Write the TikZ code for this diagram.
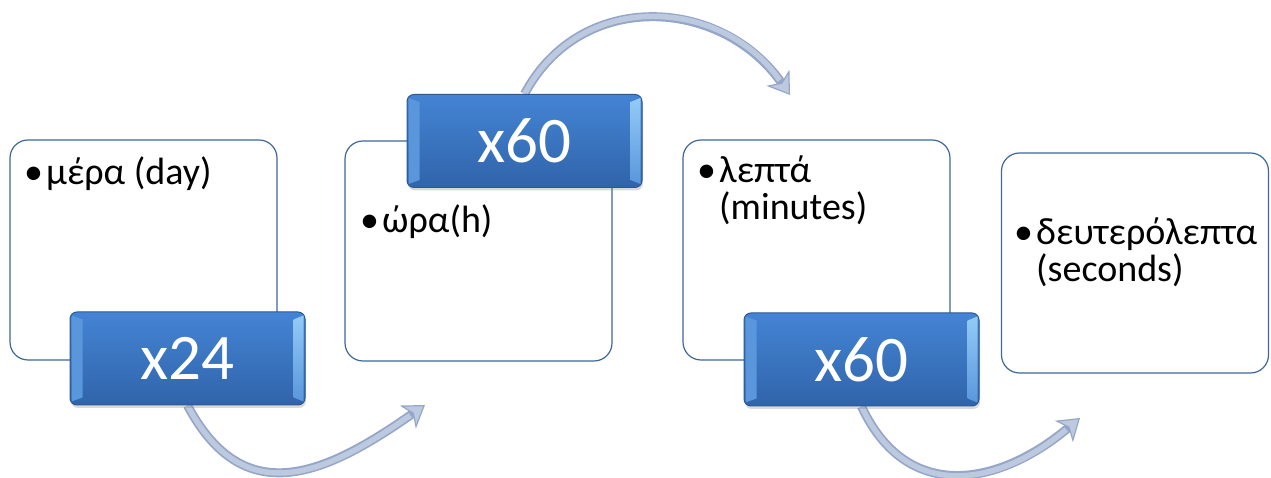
\documentclass[tikz,border=0pt]{standalone}
\usepackage{fontspec}
\setmainfont{Carlito}
\usetikzlibrary{arrows.meta,backgrounds,calc,positioning,shadows}
\definecolor{boxedge}{HTML}{3D6898}
\definecolor{steptop}{HTML}{4484D4}
\definecolor{stepbottom}{HTML}{3064AA}
\definecolor{stepedge}{HTML}{2C5890}
\definecolor{steplight}{HTML}{93CBF6}
\definecolor{stepside}{HTML}{5A96DC}
\definecolor{arrowfill}{HTML}{BCC9DF}
\definecolor{arrowedge}{HTML}{94A7C8}
\newcommand{\bul}{\makebox[22pt][l]{\textbullet}}

\tikzset{
  unitbox/.style={draw=boxedge, line width=1.2pt, fill=white, rounded corners=18pt,
    minimum width=267pt, minimum height=220pt},
  unittext/.style={anchor=base west, inner sep=0pt, align=left,
    font=\fontsize{38}{37}\selectfont},
  factorbox/.style={draw=stepedge, line width=1pt, rounded corners=7pt,
    top color=steptop, bottom color=stepbottom, text=white,
    minimum width=235pt, minimum height=93pt, font=\fontsize{65}{65}\selectfont,
    drop shadow={shadow xshift=1pt, shadow yshift=-3pt, opacity=0.3}},
  turnarrow/.style={draw=arrowedge, line width=9pt,
    -{Stealth[length=21pt, width=28pt, inset=6pt, fill=arrowfill, line width'=1.2pt]}},
  turnfill/.style={draw=arrowfill, line width=5.5pt, shorten >=18pt}
}

\begin{document}
\begin{tikzpicture}[x=1pt,y=1pt]
  \useasboundingbox (0,0) rectangle (1271,478);

  % white boxes with the units
  \node[unitbox] (day) at (143.5,228) {};
  \node[unitbox] (hour) at (478.5,227) {};
  \node[unitbox] (minute) at (816.5,228) {};
  \node[unitbox] (second) at (1135,215) {};

  % text (base of a two-line node is its last line)
  \node[unittext] (daytext) at (24,293) {\bul μέρα (day)};
  \node[unittext] (hourtext) at (360,245) {\bul ώρα(h)};
  \node[unittext] (minutetext) at (697,258) {\bul λεπτά\\\hspace*{22pt}(minutes)};
  \node[unittext] (secondtext) at (1014,196) {\bul δευτερόλεπτα\\\hspace*{22pt}(seconds)};

  % blue factor boxes
  \node[factorbox] (times24) at (187.5,119.5) {x24};
  \node[factorbox] (times60a) at (524.5,337) {x60};
  \node[factorbox] (times60b) at (861.5,118.5) {x60};

  \foreach \n in {times24,times60a,times60b} {
    \fill[stepside] ($(\n.north west)+(2,-4)$) -- ($(\n.north west)+(13,-8)$)
      -- ($(\n.south west)+(13,8)$) -- ($(\n.south west)+(2,4)$) -- cycle;
    \shade[top color=steplight, bottom color=stepside] ($(\n.north east)+(-2,-4)$)
      -- ($(\n.north east)+(-12,-8)$) -- ($(\n.south east)+(-12,8)$)
      -- ($(\n.south east)+(-2,4)$) -- cycle;
  }

  % curved arrows
  \coordinate (tohour) at (425,73);
  \coordinate (tominute) at (790,383);
  \coordinate (tosecond) at (1080,60);
  \begin{scope}[on background layer]
    \draw[turnarrow] (times24.south) to[out=-62,in=215,looseness=1.3] (tohour);
    \draw[turnfill] (times24.south) to[out=-62,in=215,looseness=1.3] (tohour);
    \draw[turnarrow] (times60a.north) to[out=62,in=125,looseness=1.15] (tominute);
    \draw[turnfill] (times60a.north) to[out=62,in=125,looseness=1.15] (tominute);
    \draw[turnarrow] (times60b.south) to[out=-65,in=220,looseness=1.25] (tosecond);
    \draw[turnfill] (times60b.south) to[out=-65,in=220,looseness=1.25] (tosecond);
  \end{scope}
\end{tikzpicture}
\end{document}
